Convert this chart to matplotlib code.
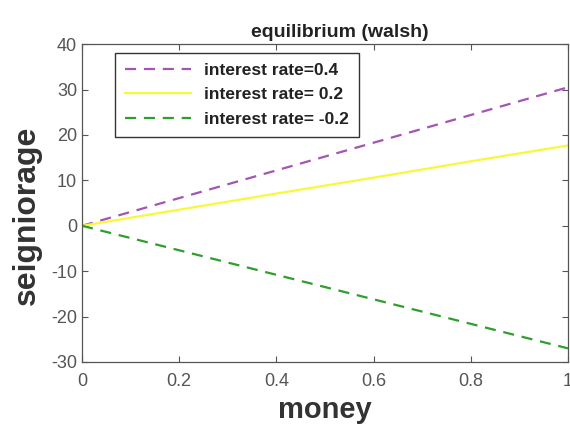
import numpy as np
import matplotlib.pyplot as plt

plt.rcParams['font.family'] = ['Liberation Sans', 'DejaVu Sans']
plt.rcParams['axes.unicode_minus'] = False

# money on the x axis, seigniorage for each interest rate
money = [0.0, 0.2, 0.4, 0.6, 0.8, 1.0]
seign_04 = [0.0, 6.1, 12.2, 18.3, 24.4, 30.5]
seign_02 = [0.0, 3.55, 7.1, 10.6, 14.2, 17.7]
seign_m02 = [0.0, -5.4, -10.8, -16.2, -21.6, -27.0]

labels = ['interest rate=0.4', 'interest rate= 0.2', 'interest rate= -0.2']

fig = plt.figure(figsize=(5.7, 4.33), dpi=100)
ax = fig.add_axes([0.1439, 0.164, 0.8526, 0.734])

ax.plot(money, seign_04, color='#a455b4', lw=1.6, ls=(0, (5, 3.5)), label=labels[0])
ax.plot(money, seign_02, color='#f8f83a', lw=1.6, ls='-', label=labels[1])
ax.plot(money, seign_m02, color='#2e9e2e', lw=1.6, ls=(0, (5, 3.5)), label=labels[2])

ax.set_xlim(0, 1)
ax.set_ylim(-30, 40)
ax.set_xticks([0, 0.2, 0.4, 0.6, 0.8, 1])
ax.set_xticklabels(['0', '0.2', '0.4', '0.6', '0.8', '1'])
ax.set_yticks(np.arange(-30, 41, 10))

ax.tick_params(direction='in', length=4, width=0.8, colors='#555555',
               labelsize=13, top=True, right=True, labelcolor='#555555')
for s in ax.spines.values():
    s.set_color('#555555')
    s.set_linewidth(0.9)
ax.tick_params(axis='x', pad=8)

ax.set_title('equilibrium (walsh)', fontsize=14, fontweight='bold', color='#222222',
             pad=5, x=0.53)
ax.set_xlabel('money', fontsize=21, fontweight='bold', color='#333333', labelpad=4)
ax.set_ylabel('seigniorage', fontsize=23, fontweight='bold', color='#333333', labelpad=0)
ax.yaxis.set_label_coords(-0.083, 0.46)

leg = ax.legend(loc='upper left', bbox_to_anchor=(0.068, 0.972), fancybox=False,
                edgecolor='#333333', framealpha=1, handlelength=3.8,
                prop={'weight': 'bold', 'size': 12.5}, borderpad=0.55,
                labelspacing=0.55, handletextpad=0.8, borderaxespad=0)
leg.get_frame().set_linewidth(1.0)
for t in leg.get_texts():
    t.set_color('#222222')

fig.savefig('out.png', dpi=100)
